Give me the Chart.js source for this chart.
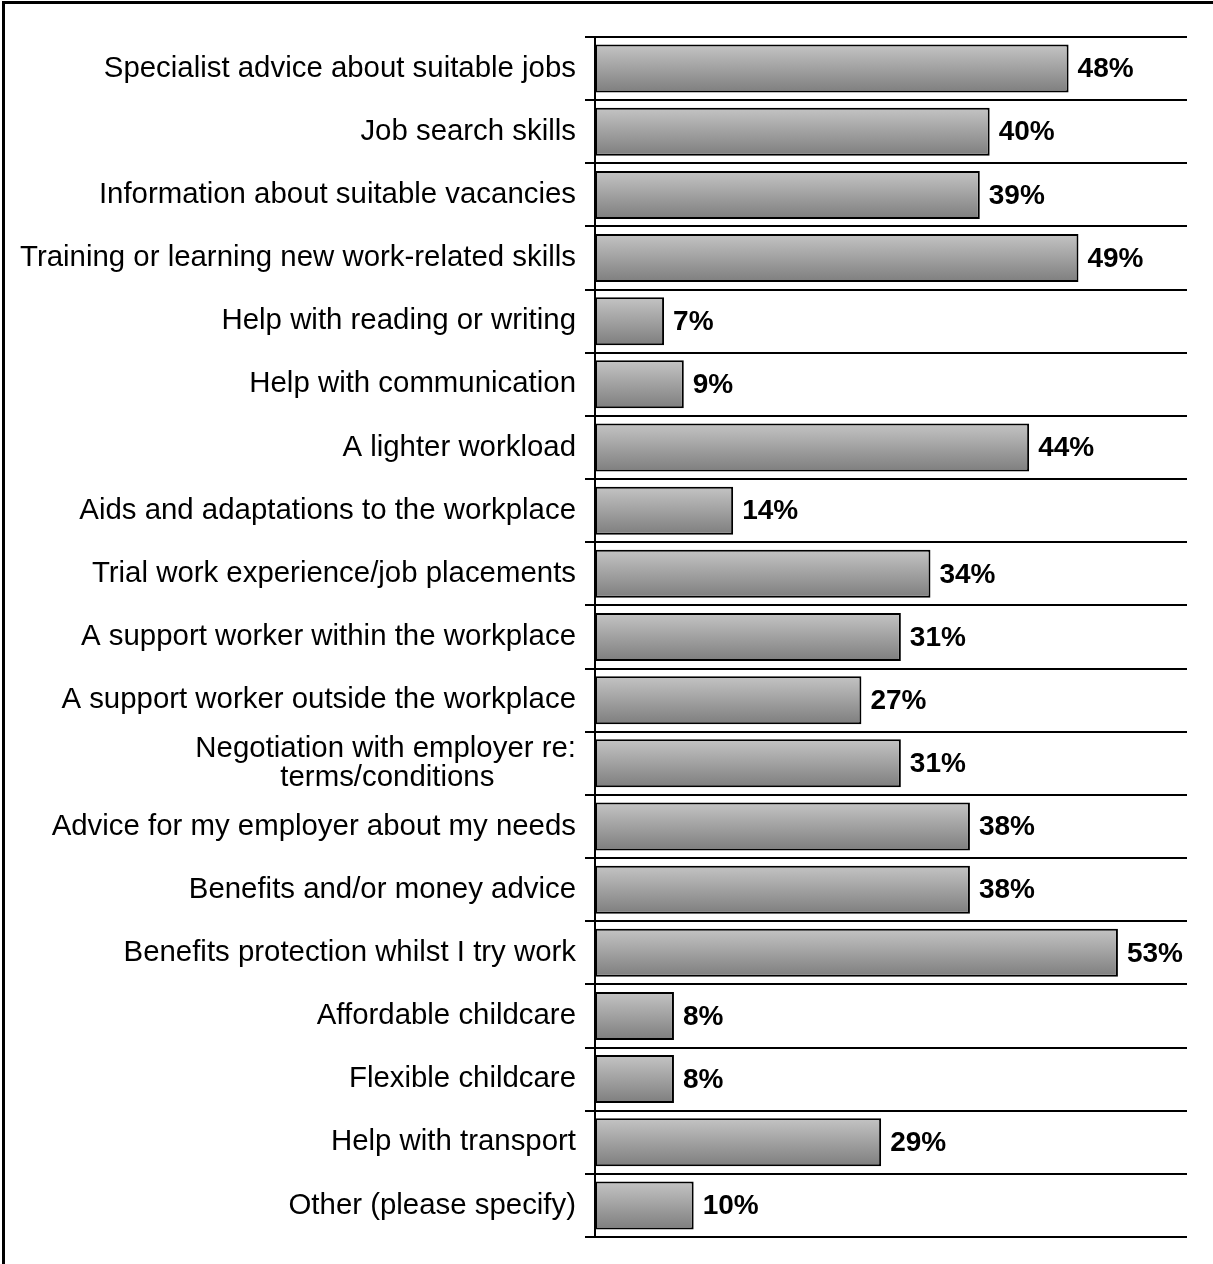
<!DOCTYPE html>
<html>
<head>
<meta charset="utf-8">
<title>Support needs</title>
<script src="https://cdn.jsdelivr.net/npm/chart.js@4/dist/chart.umd.min.js"></script>
<style>
  html, body { margin: 0; padding: 0; overflow: hidden; background: #fff; }
  #wrap { position: relative; width: 1213px; height: 1264px; }
  #frame {
    position: absolute; left: 2px; top: 1px; width: 1240px; height: 1300px;
    border: 3px solid #000; box-sizing: border-box; pointer-events: none;
  }
  canvas { position: absolute; left: 0; top: 0; }
</style>
</head>
<body>
<div id="wrap">
  <canvas id="needsChart" width="1213" height="1264"></canvas>
  <div id="frame"></div>
</div>
<script>
const categories = [
  'Specialist advice about suitable jobs',
  'Job search skills',
  'Information about suitable vacancies',
  'Training or learning new work-related skills',
  'Help with reading or writing',
  'Help with communication',
  'A lighter workload',
  'Aids and adaptations to the workplace',
  'Trial work experience/job placements',
  'A support worker within the workplace',
  'A support worker outside the workplace',
  // second line padded so both lines sit centred on each other
  ['Negotiation with employer re:', 'terms/conditions          '],
  'Advice for my employer about my needs',
  'Benefits and/or money advice',
  'Benefits protection whilst I try work',
  'Affordable childcare',
  'Flexible childcare',
  'Help with transport',
  'Other (please specify)'
];

const percentages = [48, 40, 39, 49, 7, 9, 44, 14, 34, 31, 27, 31, 38, 38, 53, 8, 8, 29, 10];

const xMin = 0;
const xMax = 60;

const FONT = 'Arial, "Liberation Sans", sans-serif';
const BAR_PCT = 0.76;

// grey top-to-bottom shading, one gradient per bar
function barGradient(c) {
  const chart = c.chart;
  const y = chart.scales.y;
  if (!y || !chart.chartArea) return '#a0a0a0';
  const centre = y.getPixelForValue(c.dataIndex);
  const half = (y.height / categories.length) * BAR_PCT / 2;
  const g = chart.ctx.createLinearGradient(0, centre - half, 0, centre + half);
  g.addColorStop(0, '#c4c4c4');
  g.addColorStop(1, '#7e7e7e');
  return g;
}

// bold percentage after each bar
const valueLabels = {
  id: 'valueLabels',
  afterDatasetsDraw(chart) {
    const ctx = chart.ctx;
    const values = chart.data.datasets[0].data;
    ctx.save();
    ctx.font = 'bold 28px ' + FONT;
    ctx.fillStyle = '#000';
    ctx.textAlign = 'left';
    ctx.textBaseline = 'middle';
    chart.getDatasetMeta(0).data.forEach((bar, i) => {
      ctx.fillText(values[i] + '%', bar.x + 9, bar.y + 1);
    });
    ctx.restore();
  }
};

const ctx = document.getElementById('needsChart').getContext('2d');
new Chart(ctx, {
  type: 'bar',
  data: {
    labels: categories,
    datasets: [{
      data: percentages,
      backgroundColor: barGradient,
      borderColor: '#000',
      borderWidth: 2,
      borderSkipped: false,
      barPercentage: BAR_PCT,
      categoryPercentage: 1.0
    }]
  },
  options: {
    indexAxis: 'y',
    responsive: false,
    animation: false,
    layout: {
      padding: { top: 37, bottom: 27, right: 26, left: 0 }
    },
    plugins: {
      legend: { display: false },
      tooltip: { enabled: false }
    },
    scales: {
      x: {
        display: false,
        min: xMin,
        max: xMax
      },
      y: {
        afterFit: scale => { scale.width = 595; },
        grid: {
          offset: true,
          color: '#000',
          lineWidth: 2,
          tickLength: 10,
          drawOnChartArea: true
        },
        border: { display: true, color: '#000', width: 2 },
        ticks: {
          color: '#000',
          padding: 9,
          font: { family: FONT, size: 29.4, lineHeight: 1.0 }
        }
      }
    }
  },
  plugins: [valueLabels]
});
</script>
</body>
</html>
